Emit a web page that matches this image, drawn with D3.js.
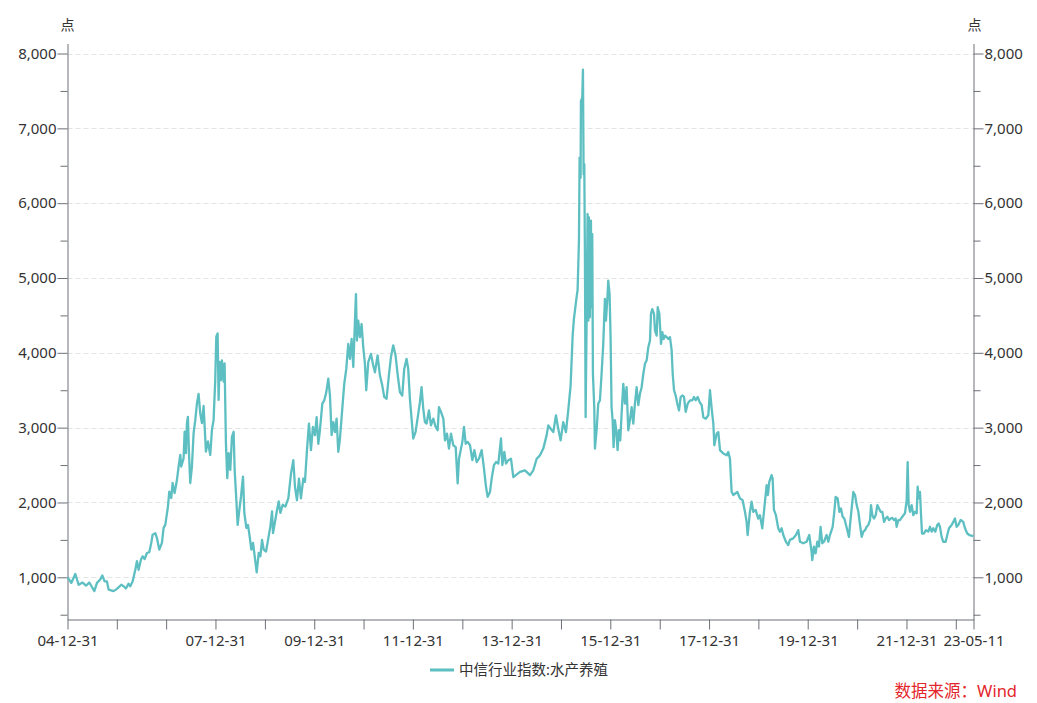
<!DOCTYPE html>
<html>
<head>
<meta charset="utf-8">
<script src="https://cdn.jsdelivr.net/npm/d3@7"></script>
<style>
  body { margin: 0; background: #fff; }
  text { font-family: "Noto Sans", "Noto Sans CJK SC", sans-serif; }
</style>
</head>
<body>
<div id="root"></div>
<script>
// Data ([decimal year, index points])
const seriesName = '中信行业指数:水产养殖';
const unitLabel = '点';
const sourceText = '数据来源：Wind';

const pts2005_2006 = [
  [2005.000,1000],[2005.074,925],[2005.155,1045],[2005.223,900],[2005.304,930],[2005.372,890],
  [2005.439,930],[2005.493,870],[2005.541,815],[2005.595,925],[2005.662,970],[2005.703,1025],
  [2005.750,945],[2005.797,945],[2005.831,835],[2005.932,815],[2006.000,845],[2006.088,900],
  [2006.135,880],[2006.182,850],[2006.236,915],[2006.270,880],[2006.318,945],[2006.372,1100],
  [2006.405,1215],[2006.439,1100],[2006.486,1235],[2006.520,1280],[2006.561,1245],[2006.608,1325],
  [2006.655,1335],[2006.696,1460],[2006.723,1570],[2006.777,1590],[2006.811,1525],[2006.858,1370],
  [2006.912,1460],[2006.946,1660],[2006.980,1700]
];
const pts2007_2008 = [
  [2007.034,1945],[2007.061,2145],[2007.101,2060],[2007.128,2260],[2007.169,2125],[2007.216,2300],
  [2007.250,2480],[2007.284,2635],[2007.304,2480],[2007.351,2590],[2007.372,2945],[2007.399,2660],
  [2007.419,3060],[2007.439,3145],[2007.459,2680],[2007.486,2260],[2007.520,2480],[2007.554,2925],
  [2007.588,3100],[2007.622,3325],[2007.655,3450],[2007.689,3190],[2007.723,3060],[2007.757,3290],
  [2007.804,2680],[2007.845,2815],[2007.892,2635],[2007.926,2970],[2007.959,3100],[2007.993,3635],
  [2008.014,4215],[2008.041,4260],[2008.061,3370],[2008.081,3880],[2008.108,3635],[2008.128,3900],
  [2008.162,3615],[2008.182,3860],[2008.209,2790],[2008.236,2325],[2008.264,2660],[2008.297,2435],
  [2008.331,2880],[2008.365,2945],[2008.385,2435],[2008.412,2125],[2008.446,1700],[2008.480,1900],
  [2008.514,2080],[2008.554,2345],[2008.581,1860],[2008.622,1660],[2008.655,1700],[2008.689,1545],
  [2008.723,1370],[2008.757,1460],[2008.791,1280],[2008.831,1065],[2008.872,1325],[2008.905,1280],
  [2008.939,1500],[2008.973,1370]
];
const pts2009_2010 = [
  [2009.020,1345],[2009.061,1500],[2009.108,1680],[2009.142,1880],[2009.162,1590],[2009.209,1770],
  [2009.243,1900],[2009.277,2015],[2009.311,1860],[2009.358,1970],[2009.412,1945],[2009.472,2055],
  [2009.526,2385],[2009.573,2565],[2009.607,2210],[2009.647,2030],[2009.688,2320],[2009.728,2055],
  [2009.776,2320],[2009.809,2275],[2009.850,2700],[2009.890,3055],[2009.931,2700],[2009.971,3010],
  [2010.012,2900],[2010.046,3140],[2010.080,2785],[2010.113,2965],[2010.161,3320],[2010.201,3365],
  [2010.242,3475],[2010.282,3655],[2010.316,3430],[2010.350,2900],[2010.383,3075],[2010.417,2940],
  [2010.451,3120],[2010.485,2675],[2010.519,2855],[2010.566,3255],[2010.606,3585],[2010.647,3785],
  [2010.687,4120],[2010.721,3920],[2010.755,4185],[2010.789,3810],[2010.822,4410],[2010.843,4785],
  [2010.863,4165],[2010.890,4430],[2010.924,4210],[2010.958,4385],[2010.991,4075]
];
const pts2011_2012 = [
  [2011.025,3855],[2011.052,3500],[2011.093,3875],[2011.147,3985],[2011.194,3830],[2011.228,3740],
  [2011.282,3965],[2011.329,3700],[2011.376,3565],[2011.417,3410],[2011.464,3385],[2011.511,3700],
  [2011.552,3940],[2011.599,4100],[2011.646,3965],[2011.687,3720],[2011.734,3475],[2011.782,3430],
  [2011.822,3785],[2011.869,3920],[2011.903,3785],[2011.937,3385],[2011.971,3120],[2012.004,2855],
  [2012.052,2945],[2012.092,3120],[2012.140,3340],[2012.173,3540],[2012.207,3255],[2012.241,3075],
  [2012.275,3055],[2012.322,3230],[2012.363,3030],[2012.410,3120],[2012.457,3010],[2012.498,2965],
  [2012.525,3275],[2012.565,3210],[2012.613,3120],[2012.647,2830],[2012.687,2920],[2012.727,2720],
  [2012.768,2920],[2012.815,2765],[2012.863,2740],[2012.903,2255],[2012.930,2585],[2012.971,2720]
];
const pts2013_2014 = [
  [2012.998,2810],[2013.031,3010],[2013.065,2785],[2013.106,2810],[2013.153,2765],[2013.200,2565],
  [2013.241,2700],[2013.288,2540],[2013.335,2585],[2013.389,2700],[2013.436,2455],[2013.477,2210],
  [2013.511,2075],[2013.558,2140],[2013.592,2320],[2013.639,2500],[2013.680,2540],[2013.727,2520],
  [2013.781,2855],[2013.808,2500],[2013.849,2675],[2013.882,2520],[2013.930,2565],[2013.984,2585],
  [2014.031,2340],[2014.166,2410],[2014.267,2430],[2014.369,2365],[2014.436,2430],[2014.505,2585],
  [2014.571,2630],[2014.639,2720],[2014.707,2900],[2014.740,3030],[2014.789,2985],[2014.842,2940],
  [2014.895,3165],[2014.942,2985],[2014.990,2830]
];
const pts2015_2016 = [
  [2015.043,3075],[2015.098,2940],[2015.145,3230],[2015.193,3565],[2015.234,4230],[2015.260,4455],
  [2015.301,4675],[2015.327,4810],[2015.334,4830],[2015.362,5500],[2015.375,6610],[2015.395,6340],
  [2015.402,7365],[2015.429,7410],[2015.443,7785],[2015.456,6385],[2015.470,6520],[2015.483,5320],
  [2015.497,3140],[2015.517,4430],[2015.537,5855],[2015.551,4430],[2015.564,5810],[2015.584,4475],
  [2015.605,5765],[2015.618,4610],[2015.632,5585],[2015.645,3720],[2015.672,3275],[2015.686,2720],
  [2015.720,2965],[2015.753,3320],[2015.787,3365],[2015.821,3720],[2015.855,4120],[2015.888,4720],
  [2015.909,4430],[2015.936,4700],[2015.956,4965],[2015.983,4785],[2016.003,4210],[2016.023,3275],
  [2016.044,3100],[2016.064,2740],[2016.091,3100],[2016.118,2965],[2016.145,2700],[2016.172,2965],
  [2016.199,2830],[2016.226,3185],[2016.260,3585],[2016.294,3320],[2016.327,3540],[2016.361,2965],
  [2016.395,3100],[2016.429,3275],[2016.462,3055],[2016.496,3320],[2016.530,3540],[2016.564,3300],
  [2016.598,3455],[2016.631,3540],[2016.665,3720],[2016.699,3855],[2016.733,3900],[2016.766,4075],
  [2016.800,4165],[2016.820,4520],[2016.847,4585],[2016.881,4520],[2016.901,4300],[2016.935,4230],
  [2016.956,4610],[2016.989,4520]
];
const pts2017_2018 = [
  [2017.023,4120],[2017.050,4275],[2017.077,4185],[2017.104,4230],[2017.138,4210],[2017.172,4185],
  [2017.205,4210],[2017.239,4030],[2017.260,3720],[2017.287,3500],[2017.320,3430],[2017.354,3320],
  [2017.388,3230],[2017.422,3410],[2017.455,3430],[2017.489,3410],[2017.523,3210],[2017.564,3320],
  [2017.611,3365],[2017.658,3365],[2017.692,3410],[2017.726,3365],[2017.766,3410],[2017.807,3340],
  [2017.847,3300],[2017.881,3140],[2017.929,3120],[2017.982,3165],[2018.016,3500],[2018.050,3255],
  [2018.084,3055],[2018.104,2765],[2018.151,2920],[2018.185,2940],[2018.219,2700],[2018.286,2655],
  [2018.354,2630],[2018.387,2675],[2018.421,2585],[2018.455,2140],[2018.489,2100],[2018.570,2140],
  [2018.624,2055],[2018.678,2030],[2018.725,1875],[2018.759,1740],[2018.779,1565],[2018.826,1875],
  [2018.860,2010],[2018.894,1875],[2018.941,1900],[2018.995,1785]
];
const pts2019_2020 = [
  [2019.029,1830],[2019.076,1655],[2019.110,1875],[2019.164,2230],[2019.191,2100],[2019.218,2275],
  [2019.265,2365],[2019.286,2320],[2019.313,1900],[2019.353,1830],[2019.400,1655],[2019.434,1610],
  [2019.468,1655],[2019.502,1565],[2019.556,1475],[2019.603,1430],[2019.637,1500],[2019.704,1520],
  [2019.758,1565],[2019.806,1630],[2019.840,1475],[2019.907,1455],[2019.975,1475],[2020.029,1565],
  [2020.076,1340],[2020.089,1230],[2020.123,1410],[2020.157,1320],[2020.191,1475],[2020.225,1410],
  [2020.258,1675],[2020.292,1455],[2020.326,1475],[2020.380,1565],[2020.414,1475],[2020.447,1565],
  [2020.502,1675],[2020.535,1875],[2020.562,2075],[2020.603,2055],[2020.637,1875],[2020.670,1920],
  [2020.704,1810],[2020.738,1785],[2020.772,1700],[2020.805,1610],[2020.832,1540],[2020.853,1700],
  [2020.886,1920],[2020.920,2140],[2020.954,2100],[2020.988,1965]
];
const pts2021_2023 = [
  [2021.022,1875],[2021.055,1700],[2021.089,1540],[2021.123,1610],[2021.157,1630],[2021.190,1675],
  [2021.224,1700],[2021.258,1765],[2021.278,1965],[2021.305,1830],[2021.339,1785],[2021.373,1830],
  [2021.407,1965],[2021.440,1920],[2021.474,1875],[2021.508,1875],[2021.542,1740],[2021.575,1785],
  [2021.609,1810],[2021.643,1765],[2021.677,1785],[2021.711,1795],[2021.744,1765],[2021.778,1785],
  [2021.798,1675],[2021.832,1765],[2021.866,1765],[2021.913,1810],[2021.967,1855],[2022.001,2030],
  [2022.021,2540],[2022.042,1965],[2022.069,1875],[2022.102,1965],[2022.136,1830],[2022.170,1875],
  [2022.204,1855],[2022.224,2210],[2022.244,2055],[2022.271,2140],[2022.291,1855],[2022.312,1585],
  [2022.352,1585],[2022.393,1630],[2022.440,1610],[2022.474,1675],[2022.508,1610],[2022.541,1655],
  [2022.582,1610],[2022.622,1700],[2022.649,1720],[2022.676,1675],[2022.710,1540],[2022.744,1475],
  [2022.791,1475],[2022.825,1565],[2022.859,1655],[2022.913,1700],[2022.947,1740],[2022.980,1785],
  [2023.014,1675],[2023.048,1700],[2023.095,1765],[2023.149,1740],[2023.183,1655],[2023.230,1585],
  [2023.271,1565],[2023.358,1550]
];

const xTickDates = ['2004-12-31','2005-12-31','2006-12-31','2007-12-31','2008-12-31','2009-12-31',
  '2010-12-31','2011-12-31','2012-12-31','2013-12-31','2014-12-31','2015-12-31','2016-12-31',
  '2017-12-31','2018-12-31','2019-12-31','2020-12-31','2021-12-31','2022-12-31','2023-05-11'];
const xTickLabels = ['04-12-31','','','07-12-31','','09-12-31','','11-12-31','','13-12-31','',
  '15-12-31','','17-12-31','','19-12-31','','21-12-31','','23-05-11'];
const yMajorTicks = [1000, 2000, 3000, 4000, 5000, 6000, 7000, 8000];
const yMinorTicks = [500, 1500, 2500, 3500, 4500, 5500, 6500, 7500];
const yDomain = [436, 8134];

// Helpers
const parseDate = d3.timeParse('%Y-%m-%d');
function yearToDate(t) {
  const y = Math.floor(t);
  const start = new Date(y, 0, 1);
  const end = new Date(y + 1, 0, 1);
  return new Date(+start + (t - y) * (end - start));
}

const data = [].concat(pts2005_2006, pts2007_2008, pts2009_2010, pts2011_2012, pts2013_2014,
  pts2015_2016, pts2017_2018, pts2019_2020, pts2021_2023)
  .map(([t, v]) => ({ date: yearToDate(t), value: v }));

// Chart
const width = 1037;
const height = 703;
const plot = { left: 67.5, right: 973.5, top: 43.5, bottom: 619.5 };
const lineColor = '#5dbfc1';
const axisColor = '#6e7079';
const textColor = '#333';

const svg = d3.select('#root').append('svg')
  .attr('width', width)
  .attr('height', height);

const xScale = d3.scaleTime()
  .domain([parseDate(xTickDates[0]), parseDate(xTickDates[xTickDates.length - 1])])
  .range([plot.left, plot.right]);

const yScale = d3.scaleLinear()
  .domain(yDomain)
  .range([plot.bottom, plot.top]);

// grid
svg.append('g')
  .selectAll('line')
  .data(yMajorTicks)
  .enter()
  .append('line')
  .attr('x1', plot.left)
  .attr('x2', plot.right)
  .attr('y1', (d) => Math.round(yScale(d)) + 0.5)
  .attr('y2', (d) => Math.round(yScale(d)) + 0.5)
  .attr('stroke', '#e3e3e3')
  .attr('stroke-dasharray', '5,3');

function styleAxis(g) {
  g.selectAll('.domain').attr('stroke', axisColor);
  g.selectAll('.tick line').attr('stroke', axisColor);
  g.selectAll('.tick text').attr('fill', textColor).style('font-size', '15px');
}

// left axis
const yLeft = svg.append('g').attr('transform', `translate(${plot.left},0)`);
yLeft.call(d3.axisLeft(yScale).tickValues(yMajorTicks).tickSize(10).tickSizeOuter(0)
  .tickPadding(1).tickFormat(d3.format(',')));
yLeft.append('g').call(d3.axisLeft(yScale).tickValues(yMinorTicks).tickSize(7).tickFormat(''))
  .select('.domain').remove();
styleAxis(yLeft);

// right axis
const yRight = svg.append('g').attr('transform', `translate(${plot.right},0)`);
yRight.call(d3.axisRight(yScale).tickValues(yMajorTicks).tickSize(10).tickSizeOuter(0)
  .tickPadding(1).tickFormat(d3.format(',')));
yRight.append('g').call(d3.axisRight(yScale).tickValues(yMinorTicks).tickSize(7).tickFormat(''))
  .select('.domain').remove();
styleAxis(yRight);

// bottom axis
const xAxisGroup = svg.append('g').attr('transform', `translate(0,${plot.bottom})`);
xAxisGroup.call(d3.axisBottom(xScale)
  .tickValues(xTickDates.map(parseDate))
  .tickSize(10)
  .tickSizeOuter(0)
  .tickPadding(6)
  .tickFormat((d, i) => xTickLabels[i]));
styleAxis(xAxisGroup);

// unit labels
[plot.left, plot.right + 1].forEach((x) => {
  svg.append('text')
    .attr('x', x)
    .attr('y', 30)
    .attr('text-anchor', 'middle')
    .attr('fill', textColor)
    .style('font-size', '14px')
    .text(unitLabel);
});

// series line
const line = d3.line()
  .x((d) => xScale(d.date))
  .y((d) => yScale(d.value));

svg.append('path')
  .datum(data)
  .attr('d', line)
  .attr('fill', 'none')
  .attr('stroke', lineColor)
  .attr('stroke-width', 2.3)
  .attr('stroke-linejoin', 'round');

// legend
const legend = svg.append('g').attr('transform', 'translate(430,670)');
legend.append('line')
  .attr('x1', 0).attr('x2', 24)
  .attr('stroke', lineColor)
  .attr('stroke-width', 3);
legend.append('text')
  .attr('x', 29)
  .attr('dy', '0.35em')
  .attr('fill', textColor)
  .style('font-size', '14.5px')
  .text(seriesName);

// source
svg.append('text')
  .attr('x', 1017)
  .attr('y', 697)
  .attr('text-anchor', 'end')
  .attr('fill', '#e3262b')
  .style('font-size', '16.5px')
  .text(sourceText);
</script>
</body>
</html>
